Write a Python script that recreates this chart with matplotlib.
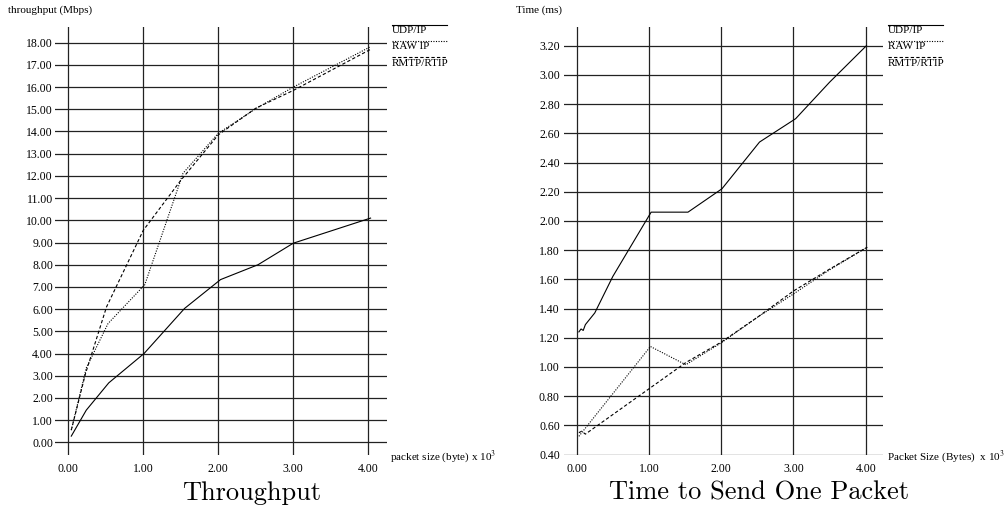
import matplotlib
matplotlib.use('Agg')
import matplotlib.pyplot as plt
from matplotlib.lines import Line2D

plt.rcParams['font.family'] = ['Liberation Serif', 'DejaVu Serif']
plt.rcParams['mathtext.fontset'] = 'stix'

# Throughput (Mbps) vs packet size (x 10^3 bytes)
tp_udp_x = [0.04, 0.24, 0.54, 1.01, 1.55, 2.03, 2.53, 3.0, 4.03]
tp_udp_y = [0.28, 1.45, 2.68, 4.0, 6.03, 7.33, 8.0, 8.97, 10.1]
tp_raw_x = [0.04, 0.24, 0.53, 1.02, 1.53, 2.0, 2.51, 3.0, 4.03]
tp_raw_y = [0.55, 3.35, 5.35, 7.1, 12.12, 13.92, 15.05, 16.0, 17.82]
tp_rmtp_x = [0.04, 0.23, 0.51, 1.0, 1.5, 2.0, 2.5, 3.0, 4.03]
tp_rmtp_y = [0.55, 3.1, 6.1, 9.55, 11.8, 13.85, 15.05, 15.85, 17.7]

# Time to send one packet (ms)
tm_udp_x = [0.03, 0.06, 0.09, 0.12, 0.25, 0.5, 1.03, 1.54, 2.01, 2.53, 3.03, 3.5, 4.01]
tm_udp_y = [1.24, 1.26, 1.25, 1.29, 1.37, 1.62, 2.06, 2.06, 2.22, 2.54, 2.70, 2.95, 3.2]
tm_raw_x = [0.03, 1.02, 1.51, 2.0, 2.5, 3.0, 3.5, 4.02]
tm_raw_y = [0.525, 1.14, 1.015, 1.165, 1.34, 1.50, 1.665, 1.82]
tm_rmtp_x = [0.03, 0.07, 0.12, 1.51, 2.0, 2.5, 3.0, 3.5, 4.02]
tm_rmtp_y = [0.55, 0.56, 0.54, 1.03, 1.17, 1.34, 1.52, 1.67, 1.82]

x_ticks = [0, 1, 2, 3, 4]
tp_ticks = list(range(0, 19))
tm_ticks = [0.4 + 0.2 * i for i in range(15)]

names = ['UDP/IP', 'RAW IP', 'RMTP/RTIP']
styles = ['-', (0, (1, 1.3)), (0, (3, 2))]

W, H = 1006, 508
fig = plt.figure(figsize=(W / 100, H / 100), dpi=100)


def px(x, y):
    return x / W, 1 - y / H


def setup(ax, yticks, ylim, xlim, ypad):
    ax.set_xlim(*xlim)
    ax.set_ylim(*ylim)
    ax.set_xticks(x_ticks)
    ax.set_xticklabels(['%.2f' % v for v in x_ticks])
    ax.set_yticks(yticks)
    ax.set_yticklabels(['%.2f' % v for v in yticks])
    for s in ax.spines.values():
        s.set_visible(False)
    ax.tick_params(length=0, labelsize=8.5)
    ax.tick_params(axis='x', pad=6)
    ax.tick_params(axis='y', pad=ypad)
    ax.grid(True, color='#222222', linewidth=0.9)
    ax.set_axisbelow(True)


ax1 = fig.add_axes([55 / W, 53 / H, 331.7 / W, 428.3 / H])
setup(ax1, tp_ticks, (-0.57, 18.72), (-0.177, 4.245), 1.5)
ax1.plot(tp_udp_x, tp_udp_y, color='black', lw=0.8, linestyle=styles[0])
ax1.plot(tp_raw_x, tp_raw_y, color='black', lw=0.8, linestyle=styles[1])
ax1.plot(tp_rmtp_x, tp_rmtp_y, color='black', lw=0.8, linestyle=styles[2])

ax2 = fig.add_axes([564 / W, 53 / H, 318.7 / W, 428.3 / H])
setup(ax2, tm_ticks, (0.397, 3.33), (-0.176, 4.235), 3)
ax2.plot(tm_udp_x, tm_udp_y, color='black', lw=0.8, linestyle=styles[0])
ax2.plot(tm_raw_x, tm_raw_y, color='black', lw=0.8, linestyle=styles[1])
ax2.plot(tm_rmtp_x, tm_rmtp_y, color='black', lw=0.8, linestyle=styles[2])

# legends: a line with the name written under it
for lx in (391.7, 887.7):
    for i, (name, ls) in enumerate(zip(names, styles)):
        ly = 25 + 16.2 * i
        x0, y0 = px(lx, ly)
        x1, _ = px(lx + 55, ly)
        fig.add_artist(Line2D([x0, x1], [y0, y0], color='black', lw=0.8, linestyle=ls))
        fig.text(x0, y0 - 1.2 / H, name, fontsize=8, va='top', ha='left')

fig.text(*px(8, 10), 'throughput (Mbps)', fontsize=8, va='center', ha='left')
fig.text(*px(516, 10), 'Time (ms)', fontsize=8, va='center', ha='left')
fig.text(*px(390, 457), r'packet size (byte) x 10$^3$', fontsize=8, va='center', ha='left')
fig.text(*px(886.7, 457), r'Packet Size (Bytes)  x 10$^3$', fontsize=8, va='center', ha='left')

fig.text(*px(251.7, 493), 'Throughput', fontsize=19, family='cmr10', ha='center', va='center')
fig.text(*px(759, 493), 'Time to Send One Packet', fontsize=19, family='cmr10', ha='center', va='center')

fig.savefig('out.png', dpi=100)
